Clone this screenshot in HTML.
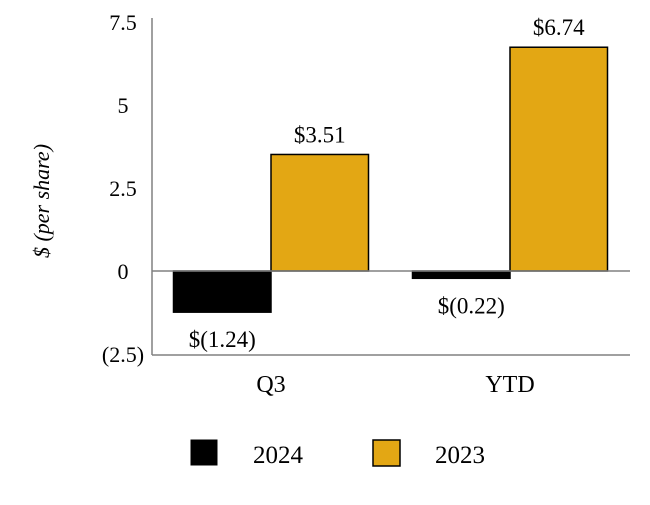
<!DOCTYPE html>
<html><head><meta charset="utf-8"><style>
body{margin:0;background:#fff;}
svg{font-family:"Liberation Serif",serif;}
</style></head><body>
<svg width="650" height="500" xmlns="http://www.w3.org/2000/svg">
<g id="plot"></g>
</svg>
<script>
const categories=["Q3","YTD"];
const series2024=[-1.24,-0.22];
const series2023=[3.51,6.74];
const labels2024=["$(1.24)","$(0.22)"];
const labels2023=["$3.51","$6.74"];
const tickValues=[7.5,5,2.5,0,-2.5];
const tickLabels=["7.5","5","2.5","0","(2.5)"];
const NS="http://www.w3.org/2000/svg";
const g=document.getElementById('plot');
const y0=271, k=33.2, xLeft=152, xRight=630, fs=23;
function y(v){return y0-v*k;}
function catX(i){return 271+i*239;}
function el(t,a,txt){const e=document.createElementNS(NS,t);for(const n in a)e.setAttribute(n,a[n]);if(txt!==undefined)e.textContent=txt;g.appendChild(e);return e;}
tickValues.forEach((v,i)=>{const t=el('text',{x:123,y:y(v)+8,'text-anchor':'middle','font-size':22,fill:'#000'},tickLabels[i]);

});
const yt=el('text',{x:0,y:0,transform:'translate(49,201) rotate(-90)','text-anchor':'middle','font-size':22,'font-style':'italic'},'$ (per share)');


const bw=97.5;
categories.forEach((c,i)=>{
 const cx=catX(i);
 const v1=series2024[i], v2=series2023[i];
 const b1=el('rect',{x:cx-bw,y:Math.min(y(0),y(v1)),width:bw,height:Math.abs(y(v1)-y(0)),fill:'#000',stroke:'#000','stroke-width':1.5});
 
 
 const b2=el('rect',{x:cx,y:Math.min(y(0),y(v2)),width:bw,height:Math.abs(y(v2)-y(0)),fill:'#E3A714',stroke:'#000','stroke-width':1.5});
 
 
 const l1=el('text',{x:cx-bw/2+(i==1?10:0),y:y(v1)+35,'text-anchor':'middle','font-size':fs},labels2024[i]);
 
 
 const l2=el('text',{x:cx+bw/2,y:y(v2)-12,'text-anchor':'middle','font-size':fs},labels2023[i]);
 
 
 const cl=el('text',{x:cx,y:392,'text-anchor':'middle','font-size':24},c);
 
 
});
const zl=el('line',{x1:xLeft,x2:xRight,y1:y(0),y2:y(0),stroke:'#808080','stroke-width':1.5});


const ya=el('line',{x1:xLeft,x2:xLeft,y1:18,y2:355,stroke:'#808080','stroke-width':1.5});


const xa=el('line',{x1:xLeft,x2:xRight,y1:355,y2:355,stroke:'#808080','stroke-width':1.5});


const s1=el('rect',{x:191,y:440,width:26,height:25,fill:'#000',stroke:'#000'});


const t1=el('text',{x:253,y:463,'font-size':25},'2024');


const s2=el('rect',{x:373,y:440,width:27,height:26,fill:'#E3A714',stroke:'#000','stroke-width':1.5});


const t2=el('text',{x:435,y:463,'font-size':25},'2023');


</script>
</body></html>
